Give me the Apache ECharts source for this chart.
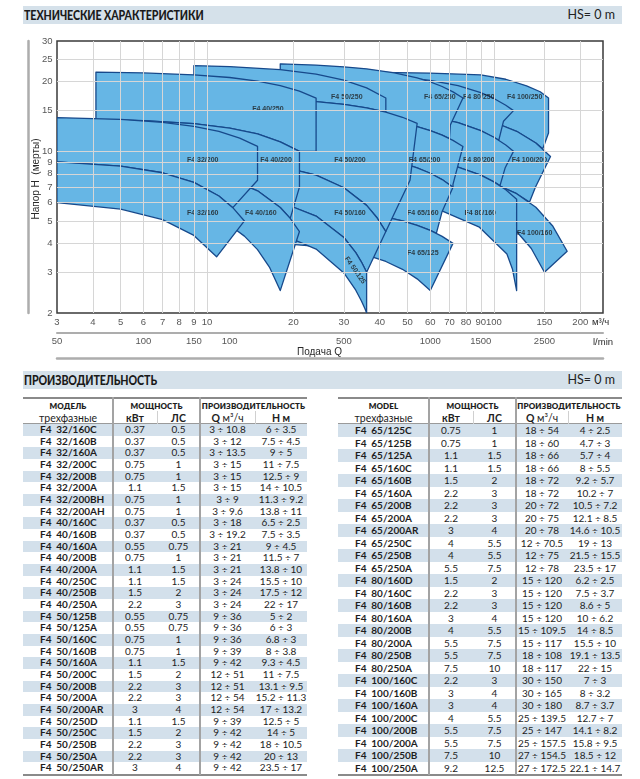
<!DOCTYPE html>
<html><head><meta charset="utf-8"><title>F4</title>
<script src="https://cdn.jsdelivr.net/npm/echarts/dist/echarts.min.js"></script>
<style>
html,body{margin:0;padding:0;background:#fff;}
#page{position:relative;width:640px;height:779px;overflow:hidden;font-family:Lato,'Liberation Sans',Arial,sans-serif;color:#1e1e1e;}
#chart{position:absolute;left:0;top:0;width:640px;height:365px;}
.bar{position:absolute;left:23px;width:599px;height:18px;background:#d5e1ea;}
.bar .t{position:absolute;left:1px;top:0;line-height:18px;font-weight:900;font-size:13px;letter-spacing:-0.1px;color:#1a1a1a;transform:scaleX(0.82);transform-origin:0 50%;}
.bar .hs{position:absolute;right:7px;top:0;line-height:18px;font-size:12.5px;color:#222;}
.a{position:absolute;white-space:nowrap;}
</style></head>
<body><div id="page">
<div class="bar" style="top:6px"><span class="t">ТЕХНИЧЕСКИЕ ХАРАКТЕРИСТИКИ</span><span class="hs">HS= 0 m</span></div>
<div id="chart"></div>
<div class="bar" style="top:371px"><span class="t">ПРОИЗВОДИТЕЛЬНОСТЬ</span><span class="hs">HS= 0 m</span></div>
<div id="tables"></div>
</div>
<script>
// ---------- axis ticks ----------
const xTicks = [3,4,5,6,7,8,9,10,20,30,40,50,60,70,80,90,100,150,200];
const yTicks = [2,3,4,5,6,7,8,9,10,15,20,25,30];
const lpmTicks = [50,100,150,200,500,1000,1500,2500];
const lpmText = ['50','100','150','100','500','1000','1500','2500'];

// ---------- pump envelopes [Q m3/h, H m] ----------
const F4_32_160 = [[3,6],[3,9],[5,8.63],[7,8.08],[9,7.34],[11,6.41],[12.3,5.71],[13.5,5],[10.8,3.5],[9,4.33],[7,5.07],[5,5.63]];
const F4_32_200 = [[3,9],[3,14],[5,13.74],[7,13.35],[9,12.83],[11,12.19],[13,11.41],[15,10.5],[15,7.5],[12.3,5.71],[11,6.41],[9,7.34],[7,8.08],[5,8.63]];
const F4_40_160 = [[3,6.5],[3,9],[6,8.72],[9,8.25],[12,7.59],[15,6.75],[18,5.72],[19.5,5.13],[21,4.5],[18,2.5],[16.5,3.16],[15,3.76],[13.5,4.3],[12,4.79],[9,5.59],[6,6.16]];
const F4_40_200 = [[3,9],[3,13.8],[6,13.56],[9,13.17],[12,12.61],[15,11.9],[18,10.99],[21,10],[21,7],[19.5,5.13],[18,5.72],[15,6.75],[12,7.59],[9,8.25],[6,8.72]];
const F4_40_250 = [[4.1,13.7],[4.1,22],[6,21.83],[9,21.43],[12,20.86],[15,20.14],[18,19.25],[21,18.21],[24,17],[24,10],[21,10],[18,10.99],[15,11.9],[12,12.61],[9,13.17],[6,13.56]];
const F4_50_125 = [[9,5],[9,6.8],[12,6.6],[18,6.04],[24,5.25],[30,4.24],[33,3.65],[34.5,3.33],[36,3],[36,2],[35.5,2.09],[34.5,2.26],[33,2.51],[30,2.98],[24,3.78],[18,4.4],[12,4.84]];
const F4_50_160 = [[9,6.8],[9,9.3],[12,9.12],[18,8.61],[24,7.89],[30,6.96],[36,5.84],[39,5.19],[42,4.5],[36,3],[34.5,3.33],[33,3.65],[30,4.24],[24,5.25],[18,6.04],[12,6.6]];
const F4_50_200 = [[12,9.12],[12,17],[18,16.75],[24,16.41],[30,15.96],[36,15.42],[42,14.78],[48,14.04],[54,13.2],[51,7.5],[42,4.5],[39,5.19],[36,5.84],[30,6.96],[24,7.89],[18,8.61]];
const F4_50_250 = [[9,17],[9,23.5],[12,23.26],[18,22.56],[24,21.59],[30,20.33],[36,18.81],[42,17],[42,14.78],[36,15.42],[30,15.96],[24,16.41],[18,16.75],[12,17]];
const F4_65_125 = [[18,4],[18,5.7],[24,5.61],[30,5.5],[36,5.36],[42,5.2],[48,5.01],[54,4.79],[60,4.55],[66,4.29],[72,4],[60,2.5],[54,2.81],[48,3.09],[42,3.34],[36,3.56],[30,3.74],[24,3.88]];
const F4_65_160 = [[18,5.7],[18,10.2],[24,10.03],[30,9.82],[36,9.56],[42,9.25],[48,8.9],[54,8.49],[60,8.04],[66,7.55],[72,7],[66,5.5],[63,4.42],[60,4.55],[54,4.79],[48,5.01],[42,5.2],[36,5.36],[30,5.5],[24,5.61]];
const F4_65_200 = [[20,10.15],[20,14.6],[24,14.47],[30,14.24],[36,13.95],[42,13.62],[48,13.23],[54,12.79],[60,12.29],[66,11.75],[72,11.15],[78,10.5],[72,7.2],[72,7],[66,7.55],[60,8.04],[54,8.49],[48,8.9],[42,9.25],[36,9.56],[30,9.82],[24,10.03]];
const F4_65_250 = [[18,14.6],[18,23.9],[24,23.6],[30,23.21],[36,22.74],[45,21.86],[54,20.79],[60,19.98],[66,19.07],[72,18.08],[78,17],[70.5,13],[70,11.36],[66,11.75],[60,12.29],[54,12.79],[48,13.23],[42,13.62],[36,13.95],[30,14.24],[24,14.47],[20,14.6]];
const F4_80_160 = [[15,6.2],[15,10],[30,9.82],[45,9.52],[60,9.1],[75,8.55],[90,7.89],[100,7.38],[110,6.82],[120,6.2],[120,2.5],[116,3.1],[111,3.6],[89,4.7],[66.5,5.5],[45,5.85],[30,6.05]];
const F4_80_200 = [[15,10],[15,15.5],[30,15.22],[45,14.77],[60,14.12],[75,13.3],[90,12.29],[100,11.51],[110,10.65],[117,10],[109.5,8.5],[105,7.11],[100,7.38],[90,7.89],[75,8.55],[60,9.1],[45,9.52],[30,9.82]];
const F4_80_250 = [[18,15.46],[18,22],[30,21.7],[45,21.11],[60,20.28],[75,19.22],[90,17.93],[100,16.93],[110,15.83],[117,15],[108,13.5],[104,11.18],[90,12.29],[75,13.3],[60,14.12],[45,14.77],[30,15.22]];
const F4_100_160 = [[30,7],[30,8.7],[45,8.52],[60,8.27],[80,7.83],[100,7.25],[120,6.56],[140,5.73],[160,4.77],[180,3.7],[150,3],[135,3.8],[120,4.5],[100,5.31],[80,5.98],[60,6.5],[45,6.79]];
const F4_100_200 = [[25,8.75],[25,15.8],[40,15.55],[60,15.03],[80,14.3],[100,13.36],[120,12.21],[140,10.86],[157.5,9.5],[139.5,7],[133,6.03],[120,6.56],[100,7.25],[80,7.83],[60,8.27],[45,8.52],[30,8.7]];
const F4_100_250 = [[27,15.77],[27,22.1],[40,21.95],[60,21.8],[90,21.4],[110,20.5],[130,19.2],[145,18.1],[155,17],[155,12],[148,10.26],[140,10.86],[120,12.21],[100,13.36],[80,14.3],[60,15.03],[40,15.55]];

// drawing order (back to front) and label anchors
const regionNames = ['F4 100/250','F4 100/200','F4 100/160','F4 80/250','F4 80/200','F4 80/160','F4 65/250','F4 65/200','F4 65/160','F4 65/125','F4 50/250','F4 50/200','F4 50/160','F4 50/125','F4 40/250','F4 40/200','F4 40/160','F4 32/200','F4 32/160'];
const regionShapes = [F4_100_250,F4_100_200,F4_100_160,F4_80_250,F4_80_200,F4_80_160,F4_65_250,F4_65_200,F4_65_160,F4_65_125,F4_50_250,F4_50_200,F4_50_160,F4_50_125,F4_40_250,F4_40_200,F4_40_160,F4_32_200,F4_32_160];
const labelQ = [128,133,138.6,88.6,88.6,89.6,64.8,57.3,56.5,56.5,30.7,31.5,31.5,32.8,16.3,17.4,15.4,9.66,9.66];
const labelH = [17.2,9.2,4.42,17.2,9.2,5.4,17.1,9.2,5.4,3.63,17.1,9.2,5.4,3.06,15.3,9.2,5.4,9.2,5.4];

// ---------- tables ----------
const leftModel = ['F4  32/160C','F4  32/160B','F4  32/160A','F4  32/200C','F4  32/200B','F4  32/200A','F4  32/200BH','F4  32/200AH','F4  40/160C','F4  40/160B','F4  40/160A','F4  40/200B','F4  40/200A','F4  40/250C','F4  40/250B','F4  40/250A','F4  50/125B','F4  50/125A','F4  50/160C','F4  50/160B','F4  50/160A','F4  50/200C','F4  50/200B','F4  50/200A','F4  50/200AR','F4  50/250D','F4  50/250C','F4  50/250B','F4  50/250A','F4  50/250AR'];
const leftKw = ['0.37','0.37','0.37','0.75','0.75','1.1','0.75','0.75','0.37','0.37','0.55','0.75','1.1','1.1','1.5','2.2','0.55','0.55','0.75','0.75','1.1','1.5','2.2','2.2','3','1.1','1.5','2.2','2.2','3'];
const leftHp = ['0.5','0.5','0.5','1','1','1.5','1','1','0.5','0.5','0.75','1','1.5','1.5','2','3','0.75','0.75','1','1','1.5','2','3','3','4','1.5','2','3','3','4'];
const leftQ = ['3 ÷ 10.8','3 ÷ 12','3 ÷ 13.5','3 ÷ 15','3 ÷ 15','3 ÷ 15','3 ÷ 9','3 ÷ 9.6','3 ÷ 18','3 ÷ 19.2','3 ÷ 21','3 ÷ 21','3 ÷ 21','3 ÷ 24','3 ÷ 24','3 ÷ 24','9 ÷ 36','9 ÷ 36','9 ÷ 36','9 ÷ 39','9 ÷ 42','12 ÷ 51','12 ÷ 51','12 ÷ 54','12 ÷ 54','9 ÷ 39','9 ÷ 42','9 ÷ 42','9 ÷ 42','9 ÷ 42'];
const leftH = ['6 ÷ 3.5','7.5 ÷ 4.5','9 ÷ 5','11 ÷ 7.5','12.5 ÷ 9','14 ÷ 10.5','11.3 ÷ 9.2','13.8 ÷ 11','6.5 ÷ 2.5','7.5 ÷ 3.5','9 ÷ 4.5','11.5 ÷ 7','13.8 ÷ 10','15.5 ÷ 10','17.5 ÷ 12','22 ÷ 17','5 ÷ 2','6 ÷ 3','6.8 ÷ 3','8 ÷ 3.8','9.3 ÷ 4.5','11 ÷ 7.5','13.1 ÷ 9.5','15.2 ÷ 11.3','17 ÷ 13.2','12.5 ÷ 5','14 ÷ 5','18 ÷ 10.5','20 ÷ 13','23.5 ÷ 17'];
const rightModel = ['F4  65/125C','F4  65/125B','F4  65/125A','F4  65/160C','F4  65/160B','F4  65/160A','F4  65/200B','F4  65/200A','F4  65/200AR','F4  65/250C','F4  65/250B','F4  65/250A','F4  80/160D','F4  80/160C','F4  80/160B','F4  80/160A','F4  80/200B','F4  80/200A','F4  80/250B','F4  80/250A','F4  100/160C','F4  100/160B','F4  100/160A','F4  100/200C','F4  100/200B','F4  100/200A','F4  100/250B','F4  100/250A'];
const rightKw = ['0.75','0.75','1.1','1.1','1.5','2.2','2.2','2.2','3','4','4','5.5','1.5','2.2','2.2','3','4','5.5','5.5','7.5','2.2','3','3','4','5.5','5.5','7.5','9.2'];
const rightHp = ['1','1','1.5','1.5','2','3','3','3','4','5.5','5.5','7.5','2','3','3','4','5.5','7.5','7.5','10','3','4','4','5.5','7.5','7.5','10','12.5'];
const rightQ = ['18 ÷ 54','18 ÷ 60','18 ÷ 66','18 ÷ 66','18 ÷ 72','18 ÷ 72','20 ÷ 72','20 ÷ 75','20 ÷ 78','12 ÷ 70.5','12 ÷ 75','12 ÷ 78','15 ÷ 120','15 ÷ 120','15 ÷ 120','15 ÷ 120','15 ÷ 109.5','15 ÷ 117','18 ÷ 108','18 ÷ 117','30 ÷ 150','30 ÷ 165','30 ÷ 180','25 ÷ 139.5','25 ÷ 147','25 ÷ 157.5','27 ÷ 154.5','27 ÷ 172.5'];
const rightH = ['4 ÷ 2.5','4.7 ÷ 3','5.7 ÷ 4','8 ÷ 5.5','9.2 ÷ 5.7','10.2 ÷ 7','10.5 ÷ 7.2','12.1 ÷ 8.5','14.6 ÷ 10.5','19 ÷ 13','21.5 ÷ 15.5','23.5 ÷ 17','6.2 ÷ 2.5','7.5 ÷ 3.7','8.6 ÷ 5','10 ÷ 6.2','14 ÷ 8.5','15.5 ÷ 10','19.1 ÷ 13.5','22 ÷ 15','7 ÷ 3','8 ÷ 3.2','8.7 ÷ 3.7','12.7 ÷ 7','14.1 ÷ 8.2','15.8 ÷ 9.5','18.5 ÷ 12','22.1 ÷ 14.7'];

function buildTable(x0, widths, title, models, kw, hp, q, h){
  const top = 397, hdrEnd = 424, bottom = 774;
  const rh = (bottom - hdrEnd) / models.length;
  const W = widths.reduce((a,b)=>a+b,0);
  const xs = [x0]; widths.forEach(w=>xs.push(xs[xs.length-1]+w));
  let s = '';
  for (let i=0;i<models.length;i++){
    const y = hdrEnd + i*rh;
    if (i%2===0) s += `<div class="a" style="left:${x0}px;top:${y}px;width:${W}px;height:${rh}px;background:#d3e0eb"></div>`;
    const cells = [models[i], kw[i], hp[i], q[i], h[i]];
    cells.forEach((t,j)=>{
      const st = j===0 ? `left:${xs[0]+17}px;text-align:left;font-weight:700;` : `left:${xs[j]}px;width:${widths[j]}px;text-align:center;`;
      s += `<div class="a" style="${st}top:${y}px;height:${rh}px;line-height:${rh}px;font-size:10px;color:#1e1e1e">${t.replace(/  /g,'&nbsp;&nbsp;')}</div>`;
    });
  }
  s += `<div class="a" style="left:${x0}px;top:${top}px;width:${W}px;height:1.5px;background:#8a8a8a"></div>`;
  s += `<div class="a" style="left:${x0}px;top:${hdrEnd-1}px;width:${W}px;height:1px;background:#9a9a9a"></div>`;
  s += `<div class="a" style="left:${x0}px;top:${bottom}px;width:${W}px;height:1.5px;background:#8a8a8a"></div>`;
  [xs[1], xs[3]].forEach(x=>{ s += `<div class="a" style="left:${x-1}px;top:${top}px;width:2px;height:${bottom-top+1}px;background:#a3a3a3"></div>`; });
  [xs[2], xs[4]].forEach(x=>{ s += `<div class="a" style="left:${x}px;top:${411}px;width:1px;height:${hdrEnd-411}px;background:#d0d0d0"></div>`; });
  const h1 = 'font-size:8px;font-weight:800;letter-spacing:0.1px;';
  s += `<div class="a" style="left:${xs[0]}px;width:${widths[0]}px;top:400px;line-height:12px;text-align:center;${h1}">${title}</div>`;
  s += `<div class="a" style="left:${xs[1]}px;width:${widths[1]+widths[2]}px;top:400px;line-height:12px;text-align:center;${h1}">МОЩНОСТЬ</div>`;
  s += `<div class="a" style="left:${xs[3]}px;width:${widths[3]+widths[4]}px;top:400px;line-height:12px;text-align:center;${h1}">ПРОИЗВОДИТЕЛЬНОСТЬ</div>`;
  const h2 = 'top:412px;line-height:12px;text-align:center;font-size:10.5px;';
  s += `<div class="a" style="left:${xs[0]}px;width:${widths[0]}px;${h2}">трехфазные</div>`;
  s += `<div class="a" style="left:${xs[1]}px;width:${widths[1]}px;${h2}font-weight:700">кВт</div>`;
  s += `<div class="a" style="left:${xs[2]}px;width:${widths[2]}px;${h2}font-weight:700">ЛС</div>`;
  s += `<div class="a" style="left:${xs[3]}px;width:${widths[3]}px;${h2}"><b>Q</b> м³/ч</div>`;
  s += `<div class="a" style="left:${xs[4]}px;width:${widths[4]}px;${h2}font-weight:700">Н м</div>`;
  return s;
}
document.getElementById('tables').innerHTML =
  buildTable(23, [90,44,43,55,52], 'МОДЕЛЬ', leftModel, leftKw, leftHp, leftQ, leftH) +
  buildTable(338, [91,44,43,52,54], 'MODEL', rightModel, rightKw, rightHp, rightQ, rightH);

// ---------- chart ----------
const chart = echarts.init(document.getElementById('chart'), null, {renderer:'canvas'});
const FONT = 'Liberation Sans';
const tickLab = (pos, dist) => ({show:true, position:pos, distance:dist, color:'#2a2a2a', fontSize:9.5, fontFamily:FONT, formatter:'{b}'});
const hidden = {color:'rgba(0,0,0,0)'};
const gridX = xTicks.filter(v=>v>3);
const gridY = yTicks.filter(v=>v>2 && v<30);

const option = {
  animation:false,
  grid:{left:57, top:41, width:546, height:272, show:true, borderColor:'#3a3a3a', borderWidth:1.5, backgroundColor:'#fff'},
  xAxis:[
    {type:'log', logBase:10, min:3, max:240, axisLine:{show:false}, axisTick:{show:false}, axisLabel:{show:false}, splitLine:{show:false}},
    {type:'log', logBase:10, min:3, max:240, position:'bottom', offset:20, axisLine:{show:true, lineStyle:{color:'#adadad', width:2}}, axisTick:{show:false}, axisLabel:{show:false}, splitLine:{show:false}},
    {type:'log', logBase:10, min:3, max:240, position:'bottom', offset:45, axisLine:{show:true, lineStyle:{color:'#adadad', width:2.5}}, axisTick:{show:false}, axisLabel:{show:false}, splitLine:{show:false}}
  ],
  yAxis:[
    {type:'log', logBase:10, min:2, max:30, axisLine:{show:false}, axisTick:{show:false}, axisLabel:{show:false}, splitLine:{show:false}},
    {type:'log', logBase:10, min:2, max:30, position:'left', offset:29, axisLine:{show:true, lineStyle:{color:'#adadad', width:2.5}}, axisTick:{show:false}, axisLabel:{show:false}, splitLine:{show:false}}
  ],
  graphic:[
    {type:'text', left:297, top:347, style:{text:'Подача Q', font:'10px "Liberation Sans"', fill:'#2a2a2a'}},
    {type:'text', left:592, top:317, style:{text:'м³/ч', font:'9.5px "Liberation Sans"', fill:'#2a2a2a'}},
    {type:'text', left:593, top:337, style:{text:'l/min', font:'9.5px "Liberation Sans"', fill:'#2a2a2a'}},
    {type:'text', x:36, y:179, rotation:Math.PI/2, style:{text:'Напор Н  (мерты)', font:'10px "Liberation Sans"', fill:'#2a2a2a', align:'center', verticalAlign:'middle'}}
  ],
  series:[
    {type:'line', data:[[10,10]], symbol:'none', lineStyle:{opacity:0}, silent:true, z:1,
     markLine:{silent:true, symbol:['none','none'], label:{show:false}, lineStyle:{color:'#d6d6d6', width:1, type:'solid'},
       data:[...gridX.map(v=>({xAxis:v})), ...gridY.map(v=>({yAxis:v}))]}},
    {type:'custom', z:2, silent:true, clip:true,
     data: regionNames.map((n,i)=>[labelQ[i], labelH[i], i]),
     renderItem:(params, api)=>{
       const pts = regionShapes[api.value(2)].map(p=>api.coord(p));
       return {type:'polygon', shape:{points:pts}, style:{fill:'#66b6e5', stroke:'#17498b', lineWidth:1.3, lineJoin:'round'}};
     }},
    {type:'scatter', z:4, silent:true, symbolSize:1, itemStyle:hidden,
     data: regionNames.map((n,i)=>({name:n, value:[labelQ[i], labelH[i]], label: n==='F4 50/125' ? {rotate:-55} : {}})),
     label:{show:true, position:'inside', formatter:'{b}', fontSize:7, fontWeight:'bold', fontFamily:FONT, color:'#1b1b1b'}},
    {type:'scatter', z:4, silent:true, symbolSize:1, itemStyle:hidden,
     data: xTicks.map(v=>({name:String(v), value:[v,2]})), label:tickLab('bottom',4)},
    {type:'scatter', z:4, silent:true, symbolSize:1, itemStyle:hidden,
     data: yTicks.map(v=>({name:String(v), value:[3,v]})), label:tickLab('left',4)},
    {type:'scatter', z:4, silent:true, symbolSize:1, itemStyle:hidden,
     data: lpmTicks.map((v,i)=>({name:lpmText[i], value:[v*60/1000,2]})), label:tickLab('bottom',23)}
  ]
};
chart.setOption(option);
</script>
</body></html>
